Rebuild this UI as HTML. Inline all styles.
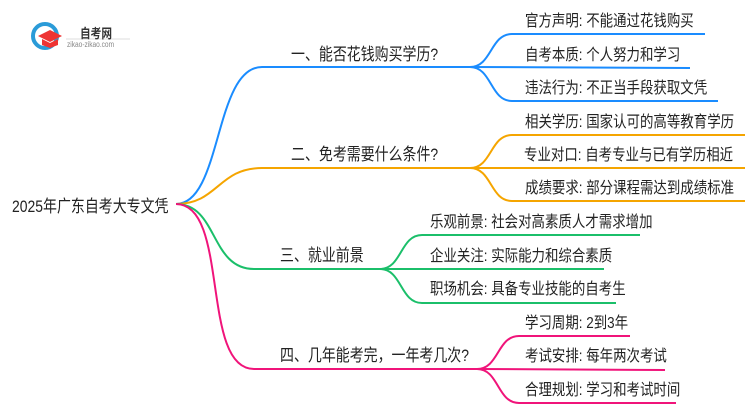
<!DOCTYPE html>
<html><head><meta charset="utf-8"><style>
body{margin:0;width:750px;height:410px;background:#fff;overflow:hidden;position:relative;font-family:"Liberation Sans","Noto Sans CJK SC",sans-serif;}
.t{position:absolute;font-size:17px;color:#222;white-space:nowrap;line-height:20px;transform:scaleX(0.82);transform-origin:0 0;}
.c{font-size:16px;transform:scaleX(0.84);}
</style></head><body>
<svg width="750" height="410" style="position:absolute;left:0;top:0" fill="none" stroke-width="2">
<g stroke="#1a8cff">
<path d="M176,204 C222,204 214,67 262,67 L470,67"/>
<path d="M470,67 C492,67 490,34 512,34 L705,34"/>
<path d="M470,67 L690,68"/>
<path d="M470,67 C492,67 490,101 512,101 L718,101"/>
</g>
<g stroke="#f5a500">
<path d="M176,204 C218,204 218,168 262,168 L470,168"/>
<path d="M470,168 C492,168 490,135 512,135 L745,135"/>
<path d="M470,168 L745,168"/>
<path d="M470,168 C492,168 490,201 512,201 L745,201"/>
</g>
<g stroke="#1bbf6a">
<path d="M176,204 C218,204 210,269 254,269 L380,269"/>
<path d="M380,269 C402,269 400,235 422,235 L640,235"/>
<path d="M380,269 L604,269"/>
<path d="M380,269 C402,269 400,303 422,303 L616,303"/>
</g>
<g stroke="#f0147a">
<path d="M176,204 C230,204 200,369 254,369 L477,369"/>
<path d="M477,369 C499,369 497,336 519,336 L630,336"/>
<path d="M477,369 L665,370"/>
<path d="M477,369 C499,369 497,403 519,403 L676,403"/>
</g>
<circle cx="45" cy="36" r="12" stroke="#2a9bd8" stroke-width="4"/>
<path d="M38,36 L50,30 L62,36 L50,42 Z" fill="#e33" stroke="none"/>
<path d="M42,39 L42,45 L50,48 L58,45 L58,39 L50,43 Z" fill="#e33" stroke="none"/>
<line x1="66" y1="39" x2="130" y2="39" stroke="#ddd" stroke-width="1"/>
</svg>
<div class="t" style="left:80px;top:24px;font-size:13px;font-weight:bold;color:#333">自考网</div>
<div class="t" style="left:67px;top:40px;font-size:8px;color:#888;line-height:10px">zikao-zikao.com</div>
<div class="t" style="left:12px;top:197px">2025年广东自考大专文凭</div>
<div class="t" style="left:291px;top:45px">一、能否花钱购买学历?</div>
<div class="t" style="left:291px;top:145px">二、免考需要什么条件?</div>
<div class="t" style="left:280px;top:246px">三、就业前景</div>
<div class="t" style="left:280px;top:346px">四、几年能考完，一年考几次?</div>
<div class="t c" style="left:525px;top:12px">官方声明: 不能通过花钱购买</div>
<div class="t c" style="left:525px;top:46px">自考本质: 个人努力和学习</div>
<div class="t c" style="left:525px;top:79px">违法行为: 不正当手段获取文凭</div>
<div class="t c" style="left:525px;top:113px">相关学历: 国家认可的高等教育学历</div>
<div class="t c" style="left:524px;top:146px">专业对口: 自考专业与已有学历相近</div>
<div class="t c" style="left:525px;top:179px">成绩要求: 部分课程需达到成绩标准</div>
<div class="t c" style="left:430px;top:213px">乐观前景: 社会对高素质人才需求增加</div>
<div class="t c" style="left:430px;top:247px">企业关注: 实际能力和综合素质</div>
<div class="t c" style="left:430px;top:280px">职场机会: 具备专业技能的自考生</div>
<div class="t c" style="left:525px;top:314px">学习周期: 2到3年</div>
<div class="t c" style="left:525px;top:347px">考试安排: 每年两次考试</div>
<div class="t c" style="left:525px;top:381px">合理规划: 学习和考试时间</div>
</body></html>
